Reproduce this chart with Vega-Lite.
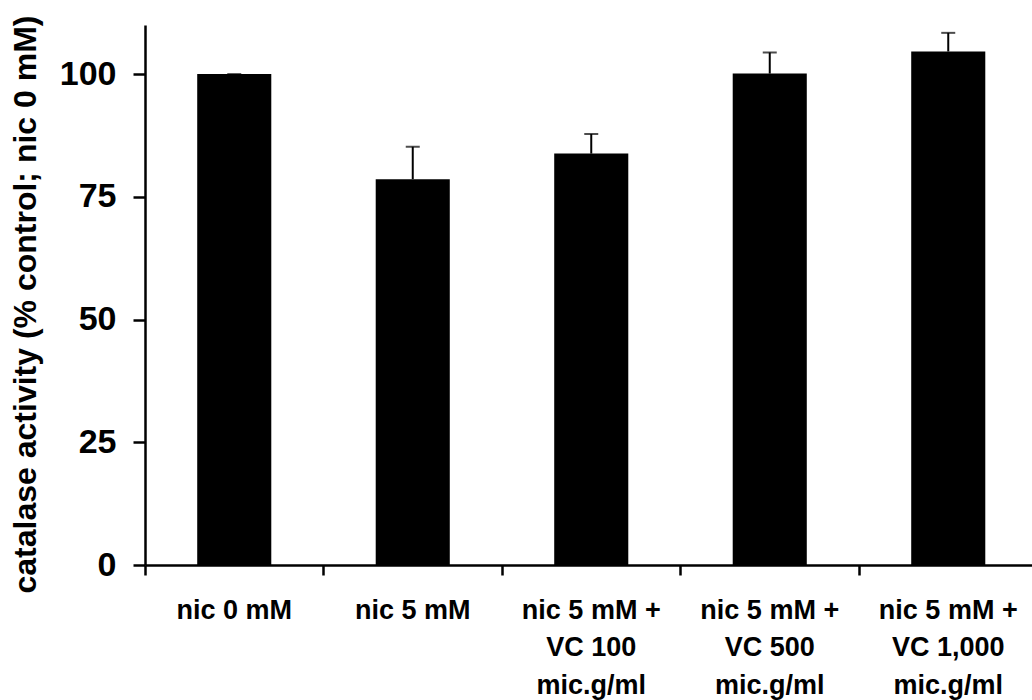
{
  "$schema": "https://vega.github.io/schema/vega-lite/v6.json",
  "autosize": "none",
  "width": 887,
  "height": 540,
  "padding": {"left": 145, "top": 25, "right": 0, "bottom": 135},
  "background": "white",
  "config": {
    "view": {"stroke": null},
    "font": "Liberation Sans"
  },
  "data": {
    "values": [
      {"group": "nic 0 mM", "value": 100.0, "upper": 100.0},
      {"group": "nic 5 mM", "value": 78.6, "upper": 85.2},
      {"group": "nic 5 mM +\nVC 100\nmic.g/ml", "value": 83.8, "upper": 87.8},
      {"group": "nic 5 mM +\nVC 500\nmic.g/ml", "value": 100.1, "upper": 104.4},
      {"group": "nic 5 mM +\nVC 1,000\nmic.g/ml", "value": 104.6, "upper": 108.4}
    ]
  },
  "encoding": {
    "x": {
      "field": "group",
      "type": "nominal",
      "sort": null,
      "scale": {"range": [0, 892.5], "paddingInner": 0, "paddingOuter": 0},
      "axis": {
        "title": null,
        "bandPosition": 0,
        "labelAngle": 0,
        "labelExpr": "split(datum.label, '\\n')",
        "labelFont": "Liberation Sans",
        "labelFontSize": 27,
        "labelFontWeight": "bold",
        "labelColor": "black",
        "labelLineHeight": 37.5,
        "labelPadding": 22,
        "labelBound": false,
        "labelOverlap": false,
        "labelFlush": false,
        "domainColor": "black",
        "domainWidth": 2.5,
        "tickColor": "black",
        "tickWidth": 2.5,
        "tickSize": 10,
        "grid": false
      }
    }
  },
  "layer": [
    {
      "mark": {"type": "bar", "color": "black", "width": {"band": 0.415}},
      "encoding": {
        "y": {
          "field": "value",
          "type": "quantitative",
          "scale": {"domain": [0, 110], "nice": false, "zero": true},
          "axis": {
            "title": "catalase activity (% control; nic 0 mM)",
            "titleFont": "Liberation Sans",
            "titleFontSize": 32,
            "titleFontWeight": "bold",
            "titleColor": "black",
            "titleAngle": 270,
            "titleAlign": "center",
            "titleBaseline": "alphabetic",
            "titleX": -110,
            "titleY": 279,
            "values": [0, 25, 50, 75, 100],
            "labelFont": "Liberation Sans",
            "labelFontSize": 34,
            "labelFontWeight": "bold",
            "labelColor": "black",
            "labelPadding": 17,
            "domainColor": "black",
            "domainWidth": 2.5,
            "tickColor": "black",
            "tickWidth": 2.5,
            "tickSize": 12,
            "grid": false
          }
        }
      }
    },
    {
      "mark": {"type": "rule", "color": "black", "strokeWidth": 2},
      "encoding": {
        "y": {"field": "value", "type": "quantitative"},
        "y2": {"field": "upper"}
      }
    },
    {
      "mark": {"type": "tick", "color": "black", "size": 14, "thickness": 2, "orient": "horizontal"},
      "encoding": {
        "y": {"field": "upper", "type": "quantitative"}
      }
    }
  ]
}
